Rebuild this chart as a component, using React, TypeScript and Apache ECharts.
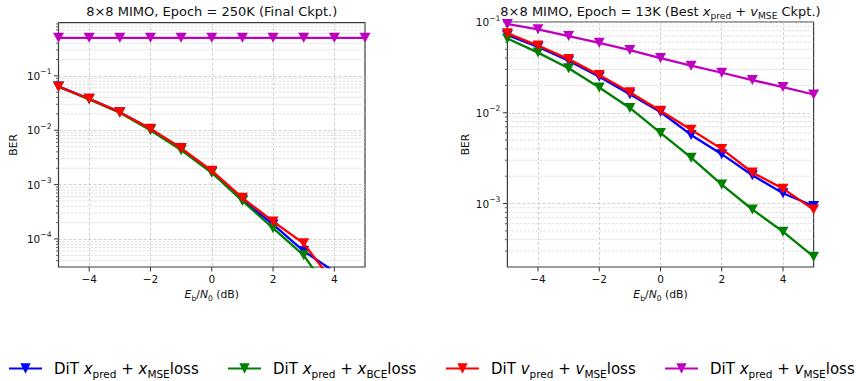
import React, { useEffect, useRef } from "react";
import * as echarts from "echarts";

const snr = [-5, -4, -3, -2, -1, 0, 1, 2, 3, 4, 5];

// Left panel: Epoch = 250K (Final Ckpt.)
const leftXpredXmse = [0.064, 0.038, 0.0215, 0.0104, 0.0046, 0.0017, 0.00052, 0.000185, 0.00006, 0.000025, null];
const leftXpredXbce = [0.063, 0.037, 0.021, 0.0100, 0.0043, 0.00165, 0.0005, 0.000158, 0.00005, 0.000008, null];
const leftVpredVmse = [0.063, 0.038, 0.0215, 0.0107, 0.0047, 0.0018, 0.00057, 0.00021, 0.000083, 0.000015, null];
const leftXpredVmse = [0.5, 0.5, 0.5, 0.5, 0.5, 0.5, 0.5, 0.5, 0.5, 0.5, 0.5];

// Right panel: Epoch = 13K (Best x_pred + v_MSE Ckpt.)
const rightXpredXmse = [0.072, 0.053, 0.0375, 0.025, 0.016, 0.0102, 0.0057, 0.0035, 0.00205, 0.0013, 0.00094];
const rightXpredXbce = [0.066, 0.046, 0.031, 0.019, 0.0113, 0.006, 0.0032, 0.00162, 0.00086, 0.00049, 0.00026];
const rightVpredVmse = [0.075, 0.055, 0.039, 0.026, 0.0168, 0.0105, 0.0065, 0.004, 0.0022, 0.00146, 0.00086];
const rightXpredVmse = [0.095, 0.083, 0.07, 0.059, 0.049, 0.04, 0.033, 0.0276, 0.0229, 0.0192, 0.0159];

const xTicks = [-4, -2, 0, 2, 4];
const leftYRange = [3.05e-5, 0.95];
const rightYRange = [2e-4, 0.1];
const xRange = [-5, 5];

const seriesKeys = ["xpred_xmse", "xpred_xbce", "vpred_vmse", "xpred_vmse"];
const seriesColors = ["#0000ff", "#008000", "#ff0000", "#bf00bf"];
const legendLabels: Record<string, string> = {
  xpred_xmse: "{g|}{n|DiT }{i|x}{s|pred}{n| + }{i|x}{s|MSE}{n|loss}",
  xpred_xbce: "{g|}{n|DiT }{i|x}{s|pred}{n| + }{i|x}{s|BCE}{n|loss}",
  vpred_vmse: "{g|}{n|DiT }{i|v}{s|pred}{n| + }{i|v}{s|MSE}{n|loss}",
  xpred_vmse: "{g|}{n|DiT }{i|x}{s|pred}{n| + }{i|v}{s|MSE}{n|loss}",
};
const legendLefts = [8, 227, 445, 664];

const FONT = "DejaVu Sans";

function majorDecades(range: number[]) {
  const out: number[] = [];
  for (let e = Math.ceil(Math.log10(range[0]) - 1e-9); e <= Math.floor(Math.log10(range[1]) + 1e-9); e++) out.push(Math.pow(10, e));
  return out;
}
function minorValues(range: number[]) {
  const out: number[] = [];
  for (let e = Math.floor(Math.log10(range[0])); e <= Math.ceil(Math.log10(range[1])); e++) {
    for (let k = 2; k <= 9; k++) {
      const v = k * Math.pow(10, e);
      if (v > range[0] && v < range[1]) out.push(v);
    }
  }
  return out;
}

const grids = [
  { left: 58.5, top: 22.7, width: 306.5, height: 244.3 },
  { left: 507.4, top: 22, width: 306.2, height: 245 },
];

export default function App() {
  const ref = useRef<HTMLDivElement>(null);
  useEffect(() => {
    if (!ref.current) return;
    const chart = echarts.init(ref.current, null, { renderer: "svg" });

    const yRanges = [leftYRange, rightYRange];
    const dataSets = [
      [leftXpredXmse, leftXpredXbce, leftVpredVmse, leftXpredVmse],
      [rightXpredXmse, rightXpredXbce, rightVpredVmse, rightXpredVmse],
    ];

    const series: any[] = [];
    [0, 1].forEach((g) => {
      const yr = yRanges[g];
      // minor gridlines + minor ticks
      series.push({
        type: "custom",
        xAxisIndex: g,
        yAxisIndex: g,
        silent: true,
        z: 1,
        clip: false,
        encode: { x: 0, y: 1 },
        data: minorValues(yr).map((v) => [xRange[0], v]),
        renderItem: (params: any, api: any) => {
          const cs = params.coordSys;
          const y = api.coord([api.value(0), api.value(1)])[1];
          return {
            type: "group",
            children: [
              { type: "line", shape: { x1: cs.x, y1: y, x2: cs.x + cs.width, y2: y }, style: { stroke: "#d6d6d6", lineWidth: 0.8, lineDash: [2.5, 1.5] } },
              { type: "line", shape: { x1: cs.x - 2.5, y1: y, x2: cs.x, y2: y }, style: { stroke: "#333", lineWidth: 0.8 } },
            ],
          };
        },
      });
      // major y ticks
      series.push({
        type: "custom",
        xAxisIndex: g,
        yAxisIndex: g,
        silent: true,
        z: 1,
        clip: false,
        encode: { x: 0, y: 1 },
        data: majorDecades(yr).map((v) => [xRange[0], v]),
        renderItem: (params: any, api: any) => {
          const cs = params.coordSys;
          const y = api.coord([api.value(0), api.value(1)])[1];
          return { type: "line", shape: { x1: cs.x - 4.5, y1: y, x2: cs.x, y2: y }, style: { stroke: "#333", lineWidth: 1 } };
        },
      });
      // major x ticks
      series.push({
        type: "custom",
        xAxisIndex: g,
        yAxisIndex: g,
        silent: true,
        z: 1,
        clip: false,
        encode: { x: 0, y: 1 },
        data: xTicks.map((v) => [v, yr[0]]),
        renderItem: (params: any, api: any) => {
          const cs = params.coordSys;
          const x = api.coord([api.value(0), api.value(1)])[0];
          const yb = cs.y + cs.height;
          return { type: "line", shape: { x1: x, y1: yb, x2: x, y2: yb + 4.5 }, style: { stroke: "#333", lineWidth: 1 } };
        },
      });
      seriesKeys.forEach((key, k) => {
        series.push({
          type: "line",
          name: key,
          xAxisIndex: g,
          yAxisIndex: g,
          data: snr.map((x, i) => [x, dataSets[g][k][i]]),
          symbol: "triangle",
          symbolRotate: 180,
          symbolSize: [11, 10],
          showAllSymbol: true,
          clip: true,
          z: 3 + k,
          lineStyle: { width: 2.3, color: seriesColors[k] },
          itemStyle: { color: seriesColors[k] },
          emphasis: { disabled: true },
        });
      });
    });

    const xLabelRich = {
      n: { fontSize: 10.8, fontFamily: FONT, color: "#111", lineHeight: 16 },
      i: { fontSize: 10.8, fontFamily: FONT, fontStyle: "italic", color: "#111", lineHeight: 16 },
      s: { fontSize: 7.6, fontFamily: FONT, color: "#111", lineHeight: 11, verticalAlign: "bottom" },
    };

    const xAxes = [0, 1].map((g) => ({
      type: "value",
      gridIndex: g,
      min: xRange[0],
      max: xRange[1],
      axisLine: { show: false },
      axisTick: { show: false },
      axisLabel: {
        margin: 6,
        fontSize: 10.5,
        fontFamily: FONT,
        color: "#111",
        formatter: (v: number) => (Math.abs(v % 2) > 1e-9 ? "" : v < 0 ? "\u2212" + Math.abs(v) : String(v)),
      },
      splitLine: { show: true, showMinLine: false, showMaxLine: false, lineStyle: { color: "#c4c4c4", width: 0.8, type: [3, 2] } },
      name: "{i|E}{s|b}{n|/}{i|N}{s|0}{n| (dB)}",
      nameLocation: "middle",
      nameGap: 19,
      nameTextStyle: { rich: xLabelRich },
    }));

    const yAxes = [0, 1].map((g) => ({
      type: "log",
      logBase: 10,
      gridIndex: g,
      min: yRanges[g][0],
      max: yRanges[g][1],
      axisLine: { show: false },
      axisTick: { show: false },
      axisLabel: {
        margin: 7,
        formatter: (v: number) => {
          const e = Math.log10(v);
          const r = Math.round(e);
          if (Math.abs(e - r) > 1e-6) return "";
          return "{b|10}{e|" + (r < 0 ? "\u2212" : "") + Math.abs(r) + "}";
        },
        rich: {
          b: { fontSize: 10.5, fontFamily: FONT, color: "#111", lineHeight: 16 },
          e: { fontSize: 7.6, fontFamily: FONT, color: "#111", lineHeight: 8, verticalAlign: "top" },
        },
      },
      splitLine: { show: true, showMinLine: false, showMaxLine: false, lineStyle: { color: "#c4c4c4", width: 0.8, type: [3, 2] } },
      name: "BER",
      nameLocation: "middle",
      nameRotate: 90,
      nameGap: g === 0 ? 40 : 36,
      nameTextStyle: { fontSize: 10.8, fontFamily: FONT, color: "#111" },
    }));

    const titleRich = {
      n: { fontSize: 13, fontFamily: FONT, fontWeight: "normal", color: "#111", lineHeight: 18 },
      i: { fontSize: 13, fontFamily: FONT, fontWeight: "normal", fontStyle: "italic", color: "#111", lineHeight: 18 },
      s: { fontSize: 9.1, fontFamily: FONT, fontWeight: "normal", color: "#111", lineHeight: 12, verticalAlign: "bottom" },
    };

    const legendRich = {
      g: { width: 7 },
      n: { fontSize: 15, fontFamily: FONT, color: "#000", lineHeight: 22 },
      i: { fontSize: 15, fontFamily: FONT, fontStyle: "italic", color: "#000", lineHeight: 22 },
      s: { fontSize: 10.5, fontFamily: FONT, color: "#000", lineHeight: 15, verticalAlign: "bottom" },
    };

    chart.setOption({
      animation: false,
      backgroundColor: "#ffffff",
      title: [
        {
          text: "{n|8×8 MIMO, Epoch = 250K (Final Ckpt.)}",
          left: grids[0].left + grids[0].width / 2,
          top: 2.5,
          textAlign: "center",
          padding: 0,
          textStyle: { fontWeight: "normal", fontSize: 13, fontFamily: FONT, rich: titleRich },
        },
        {
          text: "{n|8×8 MIMO, Epoch = 13K (Best }{i|x}{s|pred}{n| + }{i|v}{s|MSE}{n| Ckpt.)}",
          left: grids[1].left + grids[1].width / 2,
          top: 2.5,
          textAlign: "center",
          padding: 0,
          textStyle: { fontWeight: "normal", fontSize: 13, fontFamily: FONT, rich: titleRich },
        },
      ],
      legend: seriesKeys.map((key, k) => ({
        data: [key],
        left: legendLefts[k],
        top: 361,
        padding: 0,
        itemWidth: 33,
        itemHeight: 13,
        selectedMode: false,
        formatter: (name: string) => legendLabels[name],
        textStyle: { rich: legendRich },
      })),
      grid: grids.map((g) => ({
        left: g.left,
        top: g.top,
        width: g.width,
        height: g.height,
        show: true,
        borderColor: "#3a3a3a",
        borderWidth: 1.2,
        backgroundColor: "transparent",
        containLabel: false,
      })),
      xAxis: xAxes,
      yAxis: yAxes,
      series,
    });
    return () => chart.dispose();
  }, []);
  return <div ref={ref} style={{ position: "fixed", left: 0, top: 0, width: 856, height: 381, background: "#fff" }} />;
}
